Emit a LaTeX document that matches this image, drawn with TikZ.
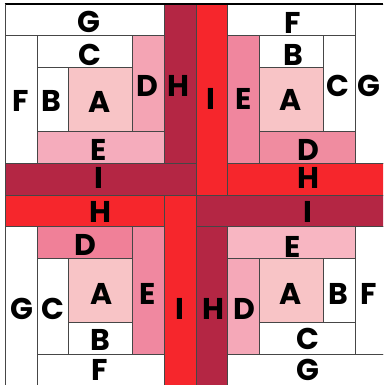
\documentclass[tikz,border=0pt]{standalone}
\usepackage{fontspec}
\setmainfont{Poppins}
\definecolor{darkred}{RGB}{180,38,68}
\definecolor{brightred}{RGB}{246,38,44}
\definecolor{pinkA}{RGB}{248,196,198}
\definecolor{tlD}{RGB}{244,164,180}
\definecolor{tlE}{RGB}{245,172,188}
\definecolor{trE}{RGB}{240,134,158}
\definecolor{trD}{RGB}{240,140,160}
\definecolor{blD}{RGB}{240,128,152}
\definecolor{blE}{RGB}{240,136,160}
\definecolor{brE}{RGB}{248,182,194}
\definecolor{brD}{RGB}{245,168,184}
\definecolor{linegray}{RGB}{70,70,70}
\newcommand\cellbox[5]{\filldraw[cell, fill=#5] (#1,#2) rectangle (#3,#4);}
\begin{document}
\begin{tikzpicture}[x=1pt,y=-1pt,
  cell/.style={draw=linegray, line width=0.6pt},
  lbl/.style={font=\fontsize{30}{30}\selectfont\bfseries, inner sep=0pt, anchor=center}]
\useasboundingbox (0,0) rectangle (383,385);
\fill[white] (0,0) rectangle (383,385);
\begin{scope}
\clip (0,0) rectangle (383,385);
\begin{scope}[shift={(5,4)}, x=31.8pt, y=-31.8pt]
% top-left block
\cellbox{0}{0}{5}{1}{white}
\cellbox{0}{1}{1}{5}{white}
\cellbox{1}{1}{4}{2}{white}
\cellbox{1}{2}{2}{4}{white}
\cellbox{2}{2}{4}{4}{pinkA}
\cellbox{4}{1}{5}{4}{tlD}
\cellbox{1}{4}{5}{5}{tlE}
\cellbox{5}{0}{6}{5}{darkred}
\cellbox{0}{5}{6}{6}{darkred}
% top-right block
\cellbox{6}{0}{7}{6}{brightred}
\cellbox{7}{0}{11}{1}{white}
\cellbox{7}{1}{8}{5}{trE}
\cellbox{8}{1}{10}{2}{white}
\cellbox{8}{2}{10}{4}{pinkA}
\cellbox{10}{1}{11}{4}{white}
\cellbox{11}{0}{12}{5}{white}
\cellbox{8}{4}{11}{5}{trD}
\cellbox{7}{5}{12}{6}{brightred}
% bottom-left block
\cellbox{0}{6}{5}{7}{brightred}
\cellbox{5}{6}{6}{12}{brightred}
\cellbox{1}{7}{4}{8}{blD}
\cellbox{4}{7}{5}{11}{blE}
\cellbox{2}{8}{4}{10}{pinkA}
\cellbox{1}{8}{2}{11}{white}
\cellbox{0}{7}{1}{12}{white}
\cellbox{2}{10}{4}{11}{white}
\cellbox{1}{11}{5}{12}{white}
% bottom-right block
\cellbox{6}{6}{12}{7}{darkred}
\cellbox{6}{7}{7}{12}{darkred}
\cellbox{7}{7}{11}{8}{brE}
\cellbox{7}{8}{8}{11}{brD}
\cellbox{8}{8}{10}{10}{pinkA}
\cellbox{10}{8}{11}{10}{white}
\cellbox{8}{10}{11}{11}{white}
\cellbox{11}{7}{12}{11}{white}
\cellbox{7}{11}{12}{12}{white}
\end{scope}
\draw[black, line width=1.4pt] (4.5,4) -- (383,4);
\draw[linegray, line width=0.9pt] (5,4) -- (5,385);
\end{scope}
% labels: top-left
\node[lbl] (tlG) at (89,22) {G};
\node[lbl] (tlC) at (90,55) {C};
\node[lbl] (tlF) at (21,101) {F};
\node[lbl] (tlB) at (51,101) {B};
\node[lbl] (tlA) at (100,102) {A};
\node[lbl] (tlD) at (147,86) {D};
\node[lbl] (tlH) at (178,86) {H};
\node[lbl] (tlE) at (99,150) {E};
\node[lbl] (tlI) at (99,178) {I};
% top-right
\node[lbl] (trF) at (293,23) {F};
\node[lbl] (trB) at (293,55) {B};
\node[lbl] (trI) at (211,99) {I};
\node[lbl] (trE) at (244,99) {E};
\node[lbl] (trA) at (291,100) {A};
\node[lbl] (trC) at (338,86) {C};
\node[lbl] (trG) at (369,86) {G};
\node[lbl] (trD) at (308,150) {D};
\node[lbl] (trH) at (308,178) {H};
% bottom-left
\node[lbl] (blH) at (100,212) {H};
\node[lbl] (blD) at (85,245) {D};
\node[lbl] (blA) at (102,294) {A};
\node[lbl] (blE) at (148,294) {E};
\node[lbl] (blG) at (22,309) {G};
\node[lbl] (blC) at (53,309) {C};
\node[lbl] (blI) at (180,309) {I};
\node[lbl] (blB) at (100,340) {B};
\node[lbl] (blF) at (100,370) {F};
% bottom-right
\node[lbl] (brI) at (308,212) {I};
\node[lbl] (brE) at (293,247) {E};
\node[lbl] (brA) at (291,294) {A};
\node[lbl] (brB) at (338,294) {B};
\node[lbl] (brF) at (369,294) {F};
\node[lbl] (brH) at (213,309) {H};
\node[lbl] (brD) at (244,309) {D};
\node[lbl] (brC) at (308,339) {C};
\node[lbl] (brG) at (308,370) {G};
\end{tikzpicture}
\end{document}
